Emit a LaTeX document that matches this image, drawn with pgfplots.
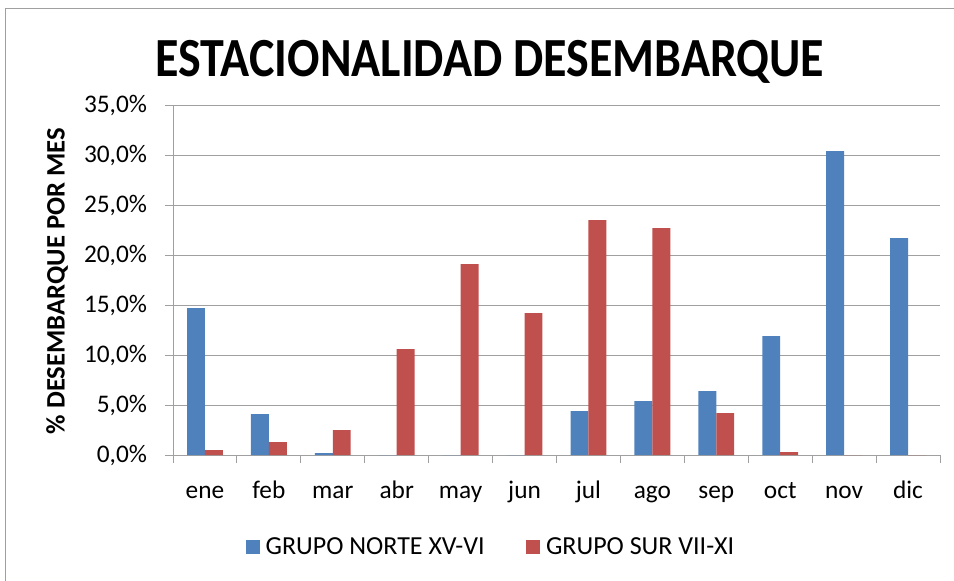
\documentclass[border=0pt]{standalone}
\usepackage{fontspec}
\setmainfont{Carlito}
\usepackage{graphicx}
\usepackage{pgfplots}
\pgfplotsset{compat=1.18}
\definecolor{bblue}{HTML}{4F81BD}
\definecolor{rred}{HTML}{C0504D}
\definecolor{gridc}{HTML}{A0A0A0}
\begin{document}
\begin{tikzpicture}
\path[use as bounding box] (0,0) rectangle (715.5pt,-435.75pt);
\draw[gridc, line width=0.75pt] (3.75pt,-435.75pt) -- (3.75pt,-6.75pt) -- (715.5pt,-6.75pt);
\node at (367.5pt,-46.5pt) {\scalebox{1}[1.15]{\fontsize{36}{40}\selectfont\bfseries ESTACIONALIDAD DESEMBARQUE}};
\node[rotate=90] at (42.75pt,-210.75pt) {\fontsize{20}{24}\selectfont\bfseries \% DESEMBARQUE POR MES};
\begin{axis}[
  at={(129.75pt,-341.25pt)}, anchor=south west,
  width=575.25pt, height=262.5pt, scale only axis,
  xmin=-0.5, xmax=11.5, ymin=0, ymax=35,
  ytick={0,5,...,35},
  xtick={0,...,11},
  xticklabels={ene,feb,mar,abr,may,jun,jul,ago,sep,oct,nov,dic},
  ybar=0pt, bar width=0.28,
  axis x line*=bottom, axis y line*=left,
  axis line style={gridc, line width=0.75pt, -},
  ymajorgrids, grid style={gridc, line width=0.75pt},
  tick align=outside, major tick length=6pt,
  tick style={gridc, line width=0.75pt},
  xtick style={draw=none},
  extra x ticks={-0.5,0.5,...,11.5},
  extra x tick labels={},
  extra x tick style={xtick style={draw=gridc, line width=0.75pt}, grid=none},
  /pgf/number format/assume math mode=true,
  yticklabel={\pgfmathprintnumber[fixed,fixed zerofill,precision=1,use comma]{\tick}\%},
  tick label style={font=\fontsize{19}{22}\selectfont, text=black},
  yticklabel style={xshift=-10pt},
  xticklabel style={text height=14pt, text depth=4pt, yshift=-9pt},
  legend style={at={(0.415,-0.263)}, anchor=center, draw=none, fill=none,
    legend columns=2, font=\fontsize{19.5}{22}\selectfont,
    /tikz/every even column/.append style={column sep=29pt}},
  legend image code/.code={\fill[#1] (0pt,-5.25pt) rectangle (10.5pt,5.25pt); \path (13pt,0pt);},
]
\addplot[fill=bblue, draw=none] coordinates {(0,14.7) (1,4.1) (2,0.2) (3,0) (4,0) (5,0) (6,4.4) (7,5.4) (8,6.4) (9,11.9) (10,30.4) (11,21.7)};
\addplot[fill=rred, draw=none] coordinates {(0,0.5) (1,1.3) (2,2.5) (3,10.6) (4,19.1) (5,14.2) (6,23.5) (7,22.7) (8,4.2) (9,0.3) (10,0) (11,0)};
\legend{GRUPO NORTE XV-VI, GRUPO SUR VII-XI}
\end{axis}
\end{tikzpicture}
\end{document}
